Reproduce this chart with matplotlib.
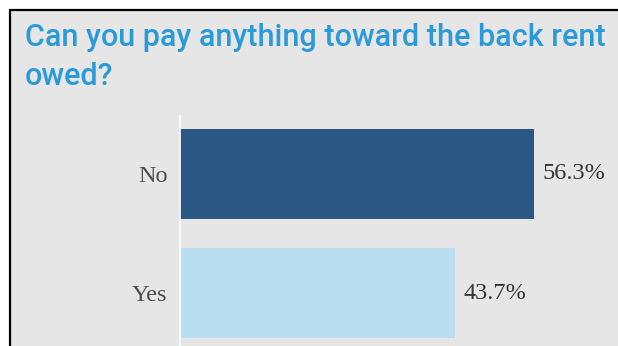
import matplotlib
matplotlib.use('Agg')
from matplotlib import pyplot as plt
from matplotlib.patches import Rectangle

answers = ["No", "Yes"]
shares = [56.3, 43.7]
share_labels = ["56.3%", "43.7%"]
bar_colors = ["#2b5785", "#b9ddf1"]
title_lines = ["Can you pay anything toward the back rent", "owed?"]

W, H = 618, 346

fig = plt.figure(figsize=(W / 100, H / 100), dpi=100)
fig.patch.set_facecolor("white")

# grey panel with black frame (right and bottom edges cut off)
panel = Rectangle((10 / W, -0.1), 1.1, 1 - 10 / H + 0.1, transform=fig.transFigure,
                  facecolor="#e6e6e6", edgecolor="black", linewidth=1.6, zorder=-5)
fig.patches.append(panel)

# title, two lines
for line, base in zip(title_lines, [46, 85]):
    fig.text(25 / W, 1 - base / H, line, family="Roboto", fontsize=22, weight="medium",
             color="#2b9ad8", va="baseline", ha="left")

# axes: zero line at x=180px, top at y=116px
ax = fig.add_axes([180 / W, 0, (W - 180) / W, (H - 116) / H])
ax.set_facecolor("none")
px_per_unit = 6.288
ax.set_xlim(0, (W - 180) / px_per_unit)
ax.set_ylim(1.445, -0.487)

pos = list(range(len(answers)))
ax.barh(pos, shares, height=0.756, color=bar_colors, zorder=2)
for p, v, lab in zip(pos, shares, share_labels):
    ax.text(v + 1.4, p, lab, family="Liberation Serif", fontsize=17.5, color="#333333",
            va="center", ha="left")

ax.set_yticks(pos)
ax.set_yticklabels(answers, family="Liberation Serif", fontsize=17.5, color="#4d4d4d")
ax.tick_params(axis="y", length=0, pad=9)
ax.set_xticks([])
for s in ["top", "right", "bottom"]:
    ax.spines[s].set_visible(False)
ax.spines["left"].set_color("white")
ax.spines["left"].set_linewidth(1.2)

fig.savefig("out.png", dpi=100)
